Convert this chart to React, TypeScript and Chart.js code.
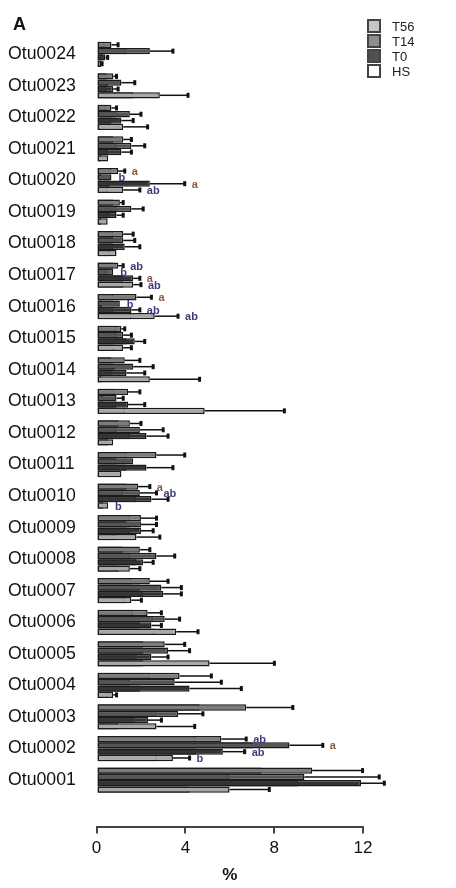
import React, { useEffect, useRef } from "react";
import { Chart, registerables } from "chart.js";

Chart.register(...registerables);

// Categories, top to bottom as displayed
const otus = [
  "Otu0024", "Otu0023", "Otu0022", "Otu0021", "Otu0020", "Otu0019", "Otu0018", "Otu0017",
  "Otu0016", "Otu0015", "Otu0014", "Otu0013", "Otu0012", "Otu0011", "Otu0010", "Otu0009",
  "Otu0008", "Otu0007", "Otu0006", "Otu0005", "Otu0004", "Otu0003", "Otu0002", "Otu0001",
];

const seriesNames = ["T56", "T14", "T0", "HS"];

// Front (inner) bar values (%)
const t56Front = [0.37, 0.45, 0.45, 0.75, 0.67, 0.75, 0.75, 0.75, 0.75, 0.9, 0.67, 0.82, 1.0, 1.35, 1.35, 1.5, 1.2, 1.57, 1.65, 2.1, 2.4, 4.64, 4.49, 7.42];
const t14Front = [1.35, 0.52, 0.9, 0.9, 0.2, 0.9, 0.75, 0.45, 0.25, 0.9, 0.82, 0.3, 0.9, 0.9, 1.2, 1.35, 1.5, 1.95, 2.55, 2.1, 1.5, 2.7, 7.04, 5.99];
const t0Front = [0.3, 0.45, 0.67, 0.52, 0.6, 0.6, 0.75, 1.2, 0.75, 1.35, 0.67, 0.9, 1.5, 1.35, 1.8, 1.5, 1.8, 2.1, 1.95, 1.8, 1.95, 1.72, 4.5, 9.06];
const hsFront = [0.1, 1.65, 0.15, 0.22, 0.5, 0.2, 0.6, 1.2, 1.57, 0.82, 0.22, 1.27, 0.52, 0.1, 0.3, 0.82, 1.0, 1.27, 2.62, 2.1, 0.52, 0.97, 2.7, 4.19];

// Back (outer) bar values (%)
const t56Back = [0.67, 0.75, 0.67, 1.2, 0.97, 1.05, 1.2, 0.97, 1.8, 1.12, 1.27, 1.42, 1.5, 2.7, 1.87, 2.0, 1.95, 2.4, 2.3, 3.07, 3.74, 6.74, 5.62, 9.71];
const t14Back = [2.4, 1.12, 1.5, 1.57, 0.67, 1.57, 1.2, 0.75, 1.05, 1.2, 1.65, 0.9, 1.95, 1.65, 1.95, 2.0, 2.7, 2.92, 3.07, 3.22, 3.52, 3.67, 8.69, 9.36];
const t0Back = [0.4, 0.75, 1.12, 1.12, 2.4, 0.9, 1.27, 1.65, 1.57, 1.72, 1.35, 1.42, 2.25, 2.25, 2.47, 2.0, 2.1, 3.0, 2.47, 2.47, 4.19, 2.32, 5.69, 11.91];
const hsBack = [0.2, 2.85, 1.2, 0.52, 1.2, 0.5, 0.9, 1.65, 2.62, 1.2, 2.4, 4.87, 0.75, 1.12, 0.52, 1.8, 1.5, 1.57, 3.59, 5.09, 0.75, 2.7, 3.44, 5.99];

// Error bar ends (%)
const t56Err = [0.97, 0.9, 0.9, 1.57, 1.27, 1.2, 1.65, 1.2, 2.47, 1.27, 1.95, 1.95, 2.0, 3.97, 2.4, 2.7, 2.4, 3.22, 2.92, 3.97, 5.17, 8.84, 6.74, 11.98];
const t14Err = [3.44, 1.72, 2.0, 2.17, 0.67, 2.1, 1.72, 0.75, 1.05, 1.57, 2.55, 1.2, 3.0, 1.65, 2.7, 2.7, 3.52, 3.82, 3.74, 4.19, 5.62, 4.79, 10.19, 12.73];
const t0Err = [0.5, 0.97, 1.65, 1.57, 3.97, 1.2, 1.95, 1.95, 1.95, 2.17, 2.17, 2.17, 3.22, 3.44, 3.22, 2.55, 2.55, 3.82, 2.92, 3.22, 6.52, 2.92, 6.67, 12.96];
const hsErr = [0.25, 4.12, 2.3, 0.52, 1.95, 0.5, 0.9, 2.0, 3.67, 1.57, 4.64, 8.46, 0.75, 1.12, 0.52, 2.85, 1.95, 2.02, 4.57, 8.01, 0.9, 4.42, 4.19, 7.78];

// Significance letters
const t56Sig = ["", "", "", "", "a", "", "", "ab", "a", "", "", "", "", "", "a", "", "", "", "", "", "", "", "ab", ""];
const t14Sig = ["", "", "", "", "b", "", "", "b", "b", "", "", "", "", "", "ab", "", "", "", "", "", "", "", "a", ""];
const t0Sig = ["", "", "", "", "a", "", "", "a", "ab", "", "", "", "", "", "", "", "", "", "", "", "", "", "ab", ""];
const hsSig = ["", "", "", "", "ab", "", "", "ab", "ab", "", "", "", "", "", "b", "", "", "", "", "", "", "", "b", ""];

const frontValues = [t56Front, t14Front, t0Front, hsFront];
const backValues = [t56Back, t14Back, t0Back, hsBack];
const errValues = [t56Err, t14Err, t0Err, hsErr];
const sigValues = [t56Sig, t14Sig, t0Sig, hsSig];

const xTicksMax = 12;
const xStep = 4;

const frontColors = ["#c6c6c6", "#8e8e8e", "#505050", "#ffffff"];
const backColors = ["#7c7c7c", "#555555", "#333333", "#a8a8a8"];
const FONT = "Arial, 'Liberation Sans', Helvetica, sans-serif";

const extrasPlugin = {
  id: "extras",
  afterDatasetsDraw(chart: any) {
    const ctx = chart.ctx;
    const xs = chart.scales.x;
    ctx.save();
    for (let s = 0; s < seriesNames.length; s++) {
      const meta = chart.getDatasetMeta(s);
      meta.data.forEach((el: any, j: number) => {
        const y = el.y;
        const xB = xs.getPixelForValue(backValues[s][j]);
        const xC = xs.getPixelForValue(errValues[s][j]);
        let endX = xB;
        if (errValues[s][j] > backValues[s][j]) {
          ctx.strokeStyle = "#111";
          ctx.lineWidth = 1.5;
          ctx.beginPath();
          ctx.moveTo(xB, y);
          ctx.lineTo(xC, y);
          ctx.stroke();
          ctx.fillStyle = "#111";
          ctx.fillRect(xC - 1.5, y - 2.5, 3, 5);
          endX = xC;
        }
        const sig = sigValues[s][j];
        if (sig) {
          ctx.font = `bold 11px ${FONT}`;
          ctx.textBaseline = "middle";
          ctx.textAlign = "left";
          ctx.fillStyle = sig === "a" ? "#8a5a48" : "#3c3c78";
          ctx.fillText(sig, endX + 7, y + 1);
        }
      });
    }
    // Legend
    const lx = chart.width - 80;
    for (let s = 0; s < seriesNames.length; s++) {
      const cy = 18 + s * 15;
      ctx.fillStyle = frontColors[s];
      ctx.fillRect(lx, cy - 6, 12, 12);
      ctx.strokeStyle = "#444";
      ctx.lineWidth = 2;
      ctx.strokeRect(lx, cy - 6, 12, 12);
      ctx.fillStyle = "#222";
      ctx.font = `13px ${FONT}`;
      ctx.textAlign = "left";
      ctx.textBaseline = "middle";
      ctx.fillText(seriesNames[s], lx + 24, cy + 1);
    }
    // Panel letter
    ctx.fillStyle = "#111";
    ctx.font = `bold 18px ${FONT}`;
    ctx.textAlign = "left";
    ctx.textBaseline = "middle";
    ctx.fillText("A", 5, 17);
    ctx.restore();
  },
};

export default function App() {
  const canvasRef = useRef<HTMLCanvasElement | null>(null);

  useEffect(() => {
    if (!canvasRef.current) return;
    const common = {
      borderColor: "#1a1a1a",
      borderWidth: 1.5,
      borderSkipped: false,
      barPercentage: 1.0,
      categoryPercentage: 0.8,
    };
    const datasets: any[] = [
      ...seriesNames.map((name, i) => ({
        ...common,
        label: name + " (upper)",
        data: backValues[i],
        backgroundColor: backColors[i],
        stack: name,
      })),
      ...seriesNames.map((name, i) => ({
        ...common,
        label: name,
        data: frontValues[i],
        backgroundColor: frontColors[i],
        stack: name,
      })),
    ];
    const chart = new Chart(canvasRef.current, {
      type: "bar",
      data: { labels: [...otus, ""], datasets },
      options: {
        indexAxis: "y",
        animation: false,
        responsive: true,
        maintainAspectRatio: false,
        layout: { padding: { top: 30.5, right: 85, left: 0, bottom: -2 } },
        plugins: { legend: { display: false }, tooltip: { enabled: false } },
        scales: {
          y: {
            stacked: true,
            grid: { display: false, drawTicks: false },
            border: { display: false },
            ticks: {
              autoSkip: false,
              crossAlign: "far",
              padding: 10.35,
              color: "#111",
              font: { size: 17.7, family: FONT },
            },
          },
          x: {
            stacked: false,
            min: 0,
            max: xTicksMax,
            ticks: {
              stepSize: xStep,
              color: "#111",
              padding: 6.5,
              font: { size: 17, family: FONT, lineHeight: 1 },
            },
            grid: {
              display: true,
              drawOnChartArea: false,
              drawTicks: true,
              tickLength: 6,
              color: "#444",
              lineWidth: 2,
            },
            border: { display: true, color: "#444", width: 2 },
            title: {
              display: true,
              text: "%",
              color: "#111",
              font: { size: 17, weight: "bold", family: FONT, lineHeight: 0.8 },
              padding: { top: 5, bottom: 0 },
            },
          },
        },
      } as any,
      plugins: [extrasPlugin],
    });
    return () => chart.destroy();
  }, []);

  return (
    <div style={{ width: 440, height: 872, position: "relative" }}>
      <canvas ref={canvasRef} />
    </div>
  );
}
